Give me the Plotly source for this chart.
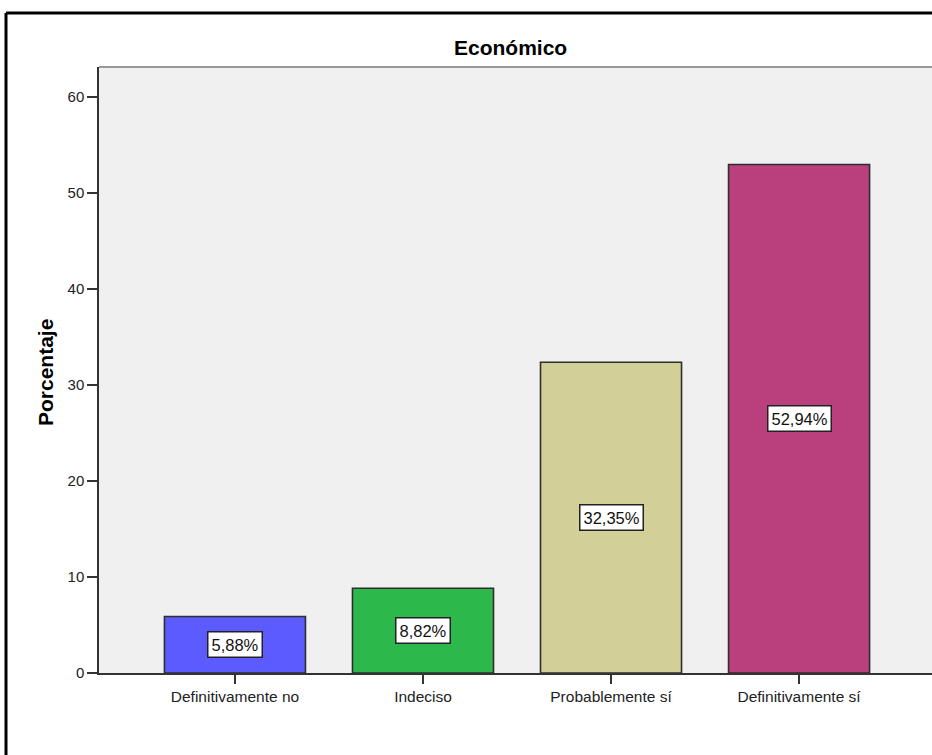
import plotly.graph_objects as go

categories = ["Definitivamente no", "Indeciso", "Probablemente sí", "Definitivamente sí"]
values = [5.88, 8.82, 32.35, 52.94]
labels = ["5,88%", "8,82%", "32,35%", "52,94%"]
colors = ["#5B5BFF", "#2DB84B", "#D3CF98", "#BA3F7D"]
y_ticks = [0, 10, 20, 30, 40, 50, 60]

W, H = 932, 755
AX_LEFT, AX_TOP, AX_BOTTOM = 99, 67, 673
ML = AX_LEFT
MT = AX_TOP
MB = H - AX_BOTTOM
MR = 0
pw = W - ML - MR
ph = H - MT - MB

def px_x(p):
    return (p - AX_LEFT) / pw

def px_y(p):
    return (AX_BOTTOM - p) / ph

FONT = "Liberation Sans, Arial"

fig = go.Figure()
fig.add_trace(go.Bar(
    x=categories, y=values, width=0.75,
    marker=dict(color=colors, line=dict(color="#2E2E2E", width=1.6)),
    hoverinfo="skip",
))

annotations = []
for c, v, t in zip(categories, values, labels):
    annotations.append(dict(
        x=c, y=v / 2, xref="x", yref="y", text=t, showarrow=False,
        font=dict(family=FONT, size=16.5, color="#111111"),
        bgcolor="white", bordercolor="#222222", borderwidth=1.5, borderpad=3,
    ))
annotations.append(dict(
    x=px_x(510), y=px_y(47), xref="paper", yref="paper", text="<b>Económico</b>",
    showarrow=False, xanchor="center", yanchor="middle",
    font=dict(family=FONT, size=21, color="#000000"),
))
annotations.append(dict(
    x=px_x(45), y=px_y(373), xref="paper", yref="paper", text="<b>Porcentaje</b>",
    showarrow=False, xanchor="center", yanchor="middle", textangle=-90,
    font=dict(family=FONT, size=21, color="#000000"),
))

shapes = [
    dict(type="line", xref="paper", yref="paper", x0=px_x(6), x1=px_x(960), y0=px_y(13), y1=px_y(13),
         line=dict(color="black", width=3)),
    dict(type="line", xref="paper", yref="paper", x0=px_x(6), x1=px_x(6), y0=px_y(13), y1=px_y(790),
         line=dict(color="black", width=3)),
    dict(type="line", xref="paper", yref="paper", x0=0, x1=1.05, y0=1, y1=1,
         line=dict(color="#999999", width=2)),
]

fig.update_layout(
    width=W, height=H,
    margin=dict(l=ML, r=MR, t=MT, b=MB, pad=0),
    paper_bgcolor="white", plot_bgcolor="#F0F0F0",
    showlegend=False,
    annotations=annotations, shapes=shapes,
    font=dict(family=FONT, size=15, color="#222222"),
    xaxis=dict(
        type="category", range=[-0.723, 3.707],
        showline=True, linecolor="#333333", linewidth=1.5,
        ticks="outside", ticklen=9, tickwidth=1.5, tickcolor="#333333",
        showgrid=False, zeroline=False,
        tickfont=dict(family=FONT, size=15.5, color="#222222"),
    ),
    yaxis=dict(
        range=[0, 63.1], tickvals=y_ticks,
        showline=True, linecolor="#333333", linewidth=1.5,
        ticks="outside", ticklen=10, tickwidth=1.5, tickcolor="#333333",
        showgrid=False, zeroline=False,
        tickfont=dict(family=FONT, size=15, color="#222222"),
    ),
)

fig.write_html(
    "out.html",
    config={"displayModeBar": False},
    post_script="document.body.style.margin='0';document.body.style.overflow='hidden';",
)
